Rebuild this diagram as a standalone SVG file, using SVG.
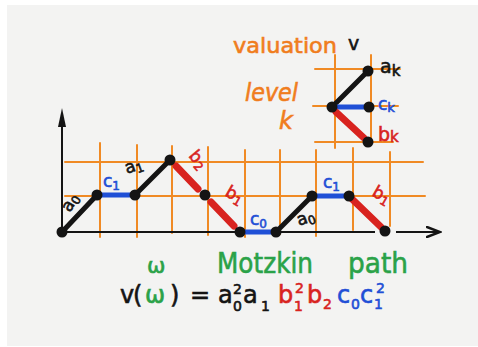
<svg xmlns="http://www.w3.org/2000/svg" width="478" height="347" viewBox="0 0 478 347">
<style>
.grid{stroke:#f08a24;stroke-width:2;fill:none;stroke-linecap:round}
.axis{stroke:#141414;stroke-width:2;fill:none}
.blk{stroke:#141414;stroke-width:5;stroke-linecap:round}
.red{stroke:#d8231f;stroke-width:7;stroke-linecap:round}
.blue{stroke:#1f4fd6;stroke-width:5;stroke-linecap:round}
.dot{fill:#141414}
text{font-family:"DejaVu Sans","Noto Sans",sans-serif}
.or{fill:#f07d1e;stroke:#f07d1e;stroke-width:0.6}
.k{fill:#141414;stroke:#141414;stroke-width:0.6}
.r{fill:#d8231f;stroke:#d8231f;stroke-width:0.6}
.b{fill:#1f4fd6;stroke:#1f4fd6;stroke-width:0.6}
.g{fill:#2aa248;stroke:#2aa248;stroke-width:0.6}
.lab{font-size:17px}
.sub{font-size:12px}
.f{font-size:24px}
.fs{font-size:14px}
</style>
<defs>
<marker id="chev" markerWidth="16" markerHeight="12" refX="14" refY="6" orient="auto" markerUnits="userSpaceOnUse">
<path d="M1,1 L14,6 L1,11" fill="none" stroke="#141414" stroke-width="2.5" stroke-linecap="round"/>
</marker>
</defs>
<rect x="0" y="0" width="478" height="347" fill="#ffffff"/>
<rect x="7" y="5" width="471" height="341" fill="#f3f3f2"/>

<g id="grid">
<line class="grid" x1="65" y1="162" x2="423" y2="162"/>
<line class="grid" x1="65" y1="196" x2="425" y2="196"/>
<line class="grid" x1="100" y1="143" x2="100" y2="237"/>
<line class="grid" x1="137" y1="145" x2="137" y2="237"/>
<line class="grid" x1="172" y1="146" x2="172" y2="233"/>
<line class="grid" x1="208" y1="147" x2="208" y2="235"/>
<line class="grid" x1="245" y1="150" x2="245" y2="237"/>
<line class="grid" x1="280" y1="150" x2="280" y2="234"/>
<line class="grid" x1="316" y1="150" x2="316" y2="236"/>
<line class="grid" x1="353" y1="148" x2="353" y2="230"/>
<line class="grid" x1="390" y1="152" x2="390" y2="226"/>
</g>

<g id="axes">
<line class="axis" x1="62" y1="233" x2="62" y2="120"/>
<path d="M62,108 L58,127 L66,127 Z" fill="#141414"/>
<line class="axis" x1="62" y1="232" x2="375" y2="232"/>
<line class="axis" x1="396" y1="232" x2="440" y2="232" marker-end="url(#chev)"/>
</g>

<g id="connectors">
<line class="blk" x1="62" y1="232" x2="97" y2="195"/>
<line class="blue" x1="97" y1="195" x2="135" y2="195"/>
<line class="blk" x1="135" y1="195" x2="170" y2="160"/>
<line class="red" x1="176" y1="166" x2="198" y2="189"/>
<line class="red" x1="211" y1="202" x2="234" y2="226"/>
<line class="blue" x1="240" y1="232" x2="276" y2="232"/>
<line class="blk" x1="276" y1="232" x2="312" y2="196"/>
<line class="blue" x1="312" y1="196" x2="349" y2="196"/>
<line class="red" x1="352" y1="199" x2="381" y2="227"/>
</g>

<g id="n0"><circle class="dot" cx="62" cy="232" r="5.5"/></g>
<g id="n1"><circle class="dot" cx="97" cy="195" r="5.5"/></g>
<g id="n2"><circle class="dot" cx="135" cy="195" r="5.5"/></g>
<g id="n3"><circle class="dot" cx="170" cy="160" r="5.5"/></g>
<g id="n4"><circle class="dot" cx="205" cy="195" r="5.5"/></g>
<g id="n5"><circle class="dot" cx="240" cy="232" r="5.5"/></g>
<g id="n6"><circle class="dot" cx="276" cy="232" r="5.5"/></g>
<g id="n7"><circle class="dot" cx="312" cy="196" r="5.5"/></g>
<g id="n8"><circle class="dot" cx="349" cy="196" r="5.5"/></g>
<g id="n9"><circle class="dot" cx="385" cy="231" r="5.5"/></g>

<g id="edge-labels">
<text class="lab k" transform="translate(70,213) rotate(-60)">a<tspan class="sub" dy="3">0</tspan></text>
<text class="lab b" x="103" y="187">c<tspan class="sub" dy="3">1</tspan></text>
<text class="lab k" transform="translate(127,174) rotate(-20)">a<tspan class="sub" dy="3">1</tspan></text>
<text class="lab r" transform="translate(188,156) rotate(50)">b<tspan class="sub" dy="3">2</tspan></text>
<text class="lab r" transform="translate(224,195) rotate(30)">b<tspan class="sub" dy="3">1</tspan></text>
<text class="lab b" x="250" y="225">c<tspan class="sub" dy="3">0</tspan></text>
<text class="lab k" transform="translate(299,226) rotate(-20)">a<tspan class="sub" dy="3">0</tspan></text>
<text class="lab b" x="323" y="188">c<tspan class="sub" dy="3">1</tspan></text>
<text class="lab r" transform="translate(371,195) rotate(30)">b<tspan class="sub" dy="3">1</tspan></text>
</g>

<g id="inset">
<line class="grid" x1="315" y1="69" x2="400" y2="69"/>
<line class="grid" x1="313" y1="106" x2="398" y2="106"/>
<line class="grid" x1="315" y1="142" x2="393" y2="142"/>
<line class="grid" x1="335" y1="55" x2="335" y2="148"/>
<line class="grid" x1="371" y1="55" x2="371" y2="140"/>
<line class="blk" x1="332" y1="107" x2="368" y2="71"/>
<line class="blue" x1="332" y1="107" x2="369" y2="107"/>
<line class="red" x1="336" y1="112" x2="364" y2="138"/>
<g id="i0"><circle class="dot" cx="332" cy="107" r="5.5"/></g>
<g id="i1"><circle class="dot" cx="368" cy="71" r="5.5"/></g>
<g id="i2"><circle class="dot" cx="369" cy="107" r="5.5"/></g>
<g id="i3"><circle class="dot" cx="368" cy="142" r="5.5"/></g>
<text class="k" x="380" y="73" font-size="19">a<tspan font-size="15" dy="3">k</tspan></text>
<text class="b" x="378" y="110" font-size="17">c<tspan font-size="13" dy="2">k</tspan></text>
<text class="r" x="378" y="141" font-size="19">b<tspan font-size="15" dy="1">k</tspan></text>
</g>

<g id="titles">
<text class="or" x="233" y="53" font-size="21" textLength="104" lengthAdjust="spacingAndGlyphs">valuation</text>
<text class="k" x="348" y="50" font-size="19">v</text>
<text class="or" x="245" y="101" font-size="24" font-style="italic" textLength="53" lengthAdjust="spacingAndGlyphs">level</text>
<text class="or" x="279" y="129" font-size="24" font-style="italic">k</text>
<text class="g" x="147" y="273" font-size="22">ω</text>
<text class="g" x="217" y="273" font-size="28" textLength="96" lengthAdjust="spacingAndGlyphs">Motzkin</text>
<text class="g" x="348" y="273" font-size="28" textLength="60" lengthAdjust="spacingAndGlyphs">path</text>
</g>

<g id="formula">
<text class="k f" x="120" y="303">v</text>
<text class="k f" x="133" y="303">(</text>
<text class="g f" x="145" y="303">ω</text>
<text class="k f" x="170" y="303">)</text>
<text class="k f" x="190" y="303">=</text>
<text class="k f" x="218" y="303">a</text>
<text class="k fs" x="233" y="311">0</text>
<text class="k fs" x="233" y="294">2</text>
<text class="k f" x="243" y="303">a</text>
<text class="k fs" x="261" y="311">1</text>
<text class="r f" x="278" y="303">b</text>
<text class="r fs" x="294" y="311">1</text>
<text class="r fs" x="295" y="293">2</text>
<text class="r f" x="307" y="303">b</text>
<text class="r fs" x="323" y="309">2</text>
<text class="b f" x="337" y="303">c</text>
<text class="b fs" x="351" y="309">0</text>
<text class="b f" x="360" y="303">c</text>
<text class="b fs" x="374" y="309">1</text>
<text class="b fs" x="376" y="293">2</text>
</g>
</svg>
